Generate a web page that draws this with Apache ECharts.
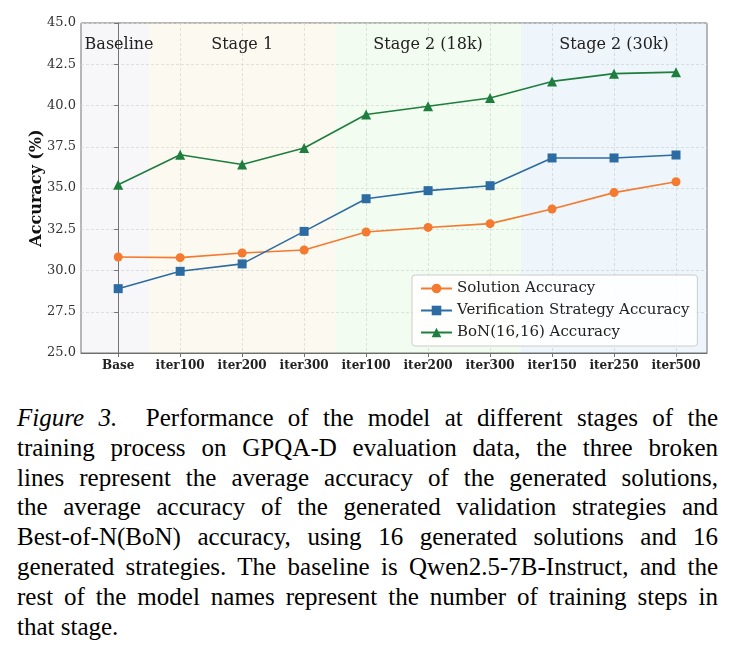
<!DOCTYPE html>
<html>
<head>
<meta charset="utf-8">
<script src="https://cdn.jsdelivr.net/npm/echarts@6/dist/echarts.min.js"></script>
<style>
    body { margin: 0; background: #fff; }
    #main { position: absolute; left: 0; top: 0; width: 738px; height: 390px; }
    #caption {
        position: absolute; left: 17px; top: 403px; width: 701px;
        font-family: "Liberation Serif", serif; font-size: 25px;
        line-height: 29.8px; color: #000;
    }
    #caption div { text-align: justify; text-align-last: justify; white-space: nowrap; }
    #caption div.last { text-align-last: left; }
</style>
</head>
<body>
<div id="main"></div>
<div id="caption">
    <div><i>Figure 3.</i>&nbsp; Performance of the model at different stages of the</div>
    <div>training process on GPQA-D evaluation data, the three broken</div>
    <div>lines represent the average accuracy of the generated solutions,</div>
    <div>the average accuracy of the generated validation strategies and</div>
    <div>Best-of-N(BoN) accuracy, using 16 generated solutions and 16</div>
    <div>generated strategies. The baseline is Qwen2.5-7B-Instruct, and the</div>
    <div>rest of the model names represent the number of training steps in</div>
    <div class="last">that stage.</div>
</div>
<script>
// x categories
const categories = ["Base", "iter100", "iter200", "iter300", "iter100", "iter200", "iter300", "iter150", "iter250", "iter500"];
// accuracy values (%)
const solutionAcc = [30.82, 30.78, 31.06, 31.24, 32.33, 32.61, 32.84, 33.73, 34.72, 35.38];
const verifyAcc = [28.9, 29.95, 30.4, 32.37, 34.35, 34.84, 35.14, 36.82, 36.82, 37.0];
const bonAcc = [35.2, 37.02, 36.42, 37.42, 39.45, 39.95, 40.45, 41.46, 41.93, 42.02];
// stage spans (category index ranges) and labels
const stageNames = ["Baseline", "Stage 1", "Stage 2 (18k)", "Stage 2 (30k)"];
const stageSpans = [[-0.6, 0.5], [0.5, 3.5], [3.5, 6.5], [6.5, 9.5]];
const stageColors = ["rgba(175,175,195,0.1)", "rgba(225,195,115,0.1)", "rgba(135,225,105,0.1)", "rgba(85,155,215,0.1)"];

const idx = categories.map((c, i) => i);
const serif = "DejaVu Serif";

const toPairs = (arr) => arr.map((v, i) => [i, v]);

var myChart = echarts.init(document.getElementById("main"));
let option = {
    animation: false,
    textStyle: { fontFamily: serif },
    grid: {
        left: 81,
        top: 23,
        width: 626,
        height: 330,
        show: true,
        borderColor: "#6e6e6e",
        borderWidth: 1,
        backgroundColor: "transparent",
    },
    legend: {
        orient: "vertical",
        left: 412,
        top: 275,
        width: 286,
        itemWidth: 31,
        itemHeight: 12,
        itemGap: 7,
        padding: [6, 8, 6, 8],
        borderColor: "#ccc",
        borderWidth: 1,
        borderRadius: 3,
        backgroundColor: "rgba(255,255,255,0.85)",
        textStyle: { fontFamily: serif, fontSize: 15, color: "#222" },
        data: ["Solution Accuracy", "Verification Strategy Accuracy", "BoN(16,16) Accuracy"],
    },
    xAxis: {
        type: "value",
        min: -0.6,
        max: 9.5,
        axisLine: { show: true, lineStyle: { color: "#6e6e6e", width: 1 } },
        axisTick: {
            show: true,
            length: 4,
            customValues: idx,
            lineStyle: { color: "#6e6e6e" },
        },
        axisLabel: {
            customValues: idx,
            formatter: (v) => categories[Math.round(v)],
            fontFamily: serif,
            fontWeight: "bold",
            fontSize: 12,
            color: "#222",
            margin: 7,
        },
        splitLine: {
            show: true,
            lineStyle: { color: "#dcdcdc", type: [3, 2], width: 0.8 },
        },
    },
    yAxis: {
        type: "value",
        min: 25,
        max: 45,
        interval: 2.5,
        name: "Accuracy (%)",
        nameLocation: "middle",
        nameGap: 36,
        nameMoveOverlap: false,
        nameTextStyle: { fontFamily: serif, fontWeight: "bold", fontSize: 16, color: "#111" },
        axisLine: { show: true, lineStyle: { color: "#6e6e6e", width: 1 } },
        axisTick: { show: true, length: 4, lineStyle: { color: "#6e6e6e" } },
        axisLabel: {
            formatter: (v) => v.toFixed(1),
            fontFamily: serif,
            fontSize: 13,
            color: "#333",
            margin: 5,
        },
        splitLine: {
            show: true,
            lineStyle: { color: "#dcdcdc", type: [3, 2], width: 0.8 },
        },
    },
    series: [
        {
            name: "Solution Accuracy",
            type: "line",
            data: toPairs(solutionAcc),
            symbol: "circle",
            symbolSize: 9,
            color: "#F47A30",
            lineStyle: { width: 1.6 },
            z: 3,
            markArea: {
                silent: true,
                data: stageSpans.map((s, i) => [
                    {
                        name: stageNames[i],
                        xAxis: s[0],
                        yAxis: 45,
                        itemStyle: { color: stageColors[i] },
                        label: i === 0 ? { offset: [4, 0] } : {},
                    },
                    { xAxis: s[1], yAxis: 25 },
                ]),
                label: {
                    show: true,
                    position: "insideTop",
                    distance: 14,
                    fontFamily: serif,
                    fontSize: 16,
                    color: "#222",
                },
            },
        },
        {
            name: "Verification Strategy Accuracy",
            type: "line",
            data: toPairs(verifyAcc),
            symbol: "rect",
            symbolSize: 9,
            color: "#2D6CA2",
            lineStyle: { width: 1.6 },
            z: 3,
        },
        {
            name: "BoN(16,16) Accuracy",
            type: "line",
            data: toPairs(bonAcc),
            symbol: "triangle",
            symbolSize: 10,
            color: "#1E7E3E",
            lineStyle: { width: 1.6 },
            z: 3,
        },
    ],
};
myChart.setOption(option);
</script>
</body>
</html>
